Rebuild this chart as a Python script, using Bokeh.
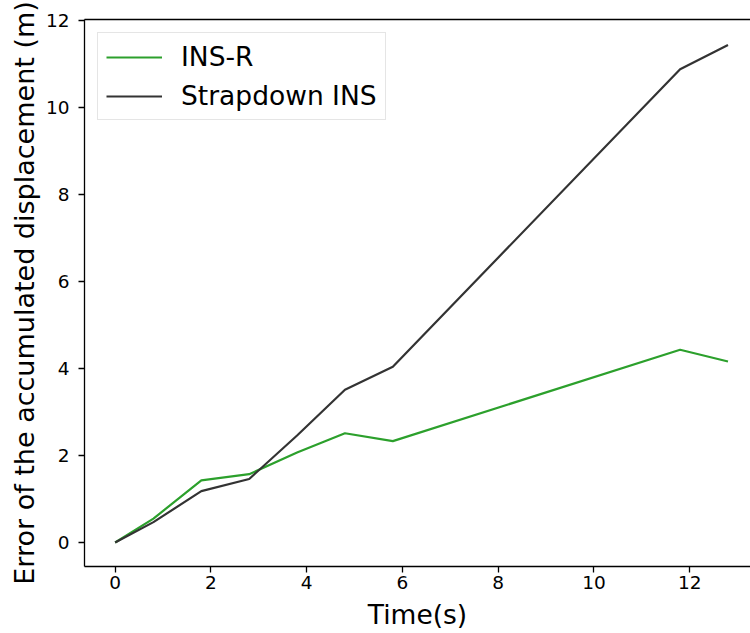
from bokeh.plotting import figure
from bokeh.models import Range1d, LinearAxis, FixedTicker, Legend, LegendItem
from bokeh.embed import file_html
from bokeh.resources import INLINE

# Data
time_s = [0, 0.8, 1.8, 2.8, 3.8, 4.8, 5.8, 11.8, 12.8]
ins_r = [0, 0.55, 1.43, 1.57, 2.07, 2.51, 2.33, 4.43, 4.16]
strapdown_ins = [0, 0.47, 1.18, 1.46, 2.46, 3.51, 4.04, 10.87, 11.43]

x_ticks = [0, 2, 4, 6, 8, 10, 12]
y_ticks = [0, 2, 4, 6, 8, 10, 12]

FONT = "DejaVu Sans"

p = figure(width=750, height=633, output_backend="svg", toolbar_location=None,
           x_range=Range1d(-0.64, 13.27), y_range=Range1d(-0.55, 12.015),
           min_border_left=84, min_border_right=0, min_border_top=19,
           min_border_bottom=67)
p.outline_line_color = None
p.grid.visible = False
p.background_fill_color = "white"
p.border_fill_color = "white"

r1 = p.line(time_s, ins_r, line_color="#2ca02c", line_width=2.2)
r2 = p.line(time_s, strapdown_ins, line_color="#333333", line_width=2.2)

for ax in (p.xaxis[0], p.yaxis[0]):
    ax.axis_line_color = "black"
    ax.axis_line_width = 1.3
    ax.major_tick_line_color = "black"
    ax.major_tick_line_width = 1.3
    ax.major_tick_out = 6
    ax.major_tick_in = 0
    ax.minor_tick_line_color = None
    ax.major_label_text_font = FONT
    ax.major_label_text_font_size = "18.5px"
    ax.major_label_text_color = "black"
    ax.axis_label_text_font = FONT
    ax.axis_label_text_font_style = "normal"
    ax.axis_label_text_color = "black"

p.xaxis[0].ticker = FixedTicker(ticks=x_ticks)
p.yaxis[0].ticker = FixedTicker(ticks=y_ticks)
p.xaxis[0].axis_label = "Time(s)"
p.yaxis[0].axis_label = "Error of the accumulated displacement (m)"
p.xaxis[0].axis_label_text_font_size = "26.5px"
p.yaxis[0].axis_label_text_font_size = "27px"
p.xaxis[0].major_label_standoff = 3
p.yaxis[0].major_label_standoff = 9
p.xaxis[0].axis_label_standoff = 7
p.yaxis[0].axis_label_standoff = 3

top_axis = LinearAxis(ticker=FixedTicker(ticks=[]), axis_line_color="black",
                      axis_line_width=1.3, major_tick_out=0, major_tick_in=0,
                      minor_tick_line_color=None, major_label_text_font_size="0px")
p.add_layout(top_axis, "above")

legend = Legend(items=[LegendItem(label="INS-R", renderers=[r1]),
                       LegendItem(label="Strapdown INS", renderers=[r2])],
                location="top_left", margin=13, padding=8, spacing=8,
                label_height=30, glyph_height=30, glyph_width=56,
                label_standoff=19, label_text_font=FONT,
                label_text_font_size="26.5px", label_text_color="black",
                border_line_color="#cccccc", border_line_width=1,
                background_fill_alpha=0.8)
p.add_layout(legend)

open("out.html", "w").write(file_html(p, INLINE))
